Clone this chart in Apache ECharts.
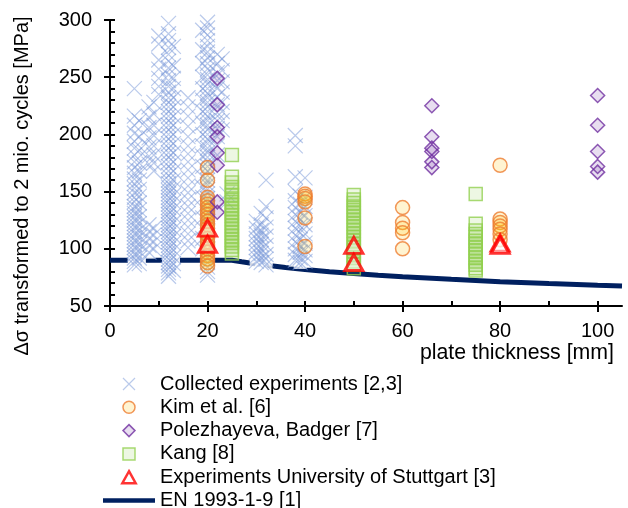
<!DOCTYPE html>
<html><head><meta charset="utf-8">
<script src="https://cdn.jsdelivr.net/npm/echarts@6/dist/echarts.min.js"></script>
<style>html,body{margin:0;padding:0;background:#fff}#c{width:628px;height:508px}</style>
</head><body><div id="c"></div>
<script>
const FONT = '"Liberation Sans", Arial, sans-serif';

// tick labels
const xTickLabels = [0, 20, 40, 60, 80, 100];
const xMinorTicks = [0, 10, 20, 30, 40, 50, 60, 70, 80, 90, 100];
const yTickLabels = [50, 100, 150, 200, 250, 300];
const yMinorTicks = [50, 60, 70, 80, 90, 100, 110, 120, 130, 140, 150, 160, 170, 180, 190, 200, 210, 220, 230, 240, 250, 260, 270, 280, 290, 300];

// Collected experiments [2,3]: plate thickness [mm] and stress ranges [MPa]
const collectedThickness = [5, 6, 8, 9, 10, 12, 13, 16, 19, 20, 22, 23, 24, 30, 31, 32, 38, 39, 40];
const collectedValues = [
  [240, 216, 208, 201, 194, 188, 182, 176, 171, 166, 161, 157, 153, 149, 145, 141, 137, 134, 131, 128, 125, 122, 119, 116, 113, 110, 107, 104, 101, 98, 95, 92, 89, 86],
  [212, 198, 186, 175, 168, 160, 152, 146, 140, 134, 128, 122, 116, 110, 104, 98, 92, 87],
  [224, 215, 206, 197, 189, 181, 174, 121, 115, 109, 103, 97],
  [228, 218, 208, 199, 190, 182, 175, 168, 118, 112, 106, 100],
  [286, 279, 265, 257, 249, 242, 235],
  [297, 288, 282, 276, 270, 264, 258, 252, 247, 242, 237, 232, 228, 224, 220, 216, 212, 208, 204, 200, 196, 192, 188, 184, 180, 176, 172, 168, 164, 160, 157, 154, 151, 148, 145, 142, 139, 136, 133, 130, 127, 124, 121, 118, 115, 112, 109, 106, 103, 100, 97, 94, 91, 88, 85, 82, 79, 76],
  [277, 260, 249, 240, 232, 224, 216, 208, 200, 192, 184, 176, 168, 160, 153, 147, 141, 135, 129, 123, 117, 111, 105, 99, 93, 87, 81],
  [232, 224, 216, 207, 198, 190, 183, 176, 169, 162, 155, 149, 143, 137, 131, 125, 119, 113, 107, 101],
  [291, 274, 262, 250, 240, 230, 220, 210, 200, 190, 181, 172, 163, 154, 145, 136, 127, 118, 109, 100],
  [298, 293, 287, 282, 277, 272, 267, 262, 257, 252, 248, 244, 240, 236, 232, 228, 224, 220, 216, 212, 208, 204, 200, 196, 192, 188, 184, 180, 176, 172, 168, 164, 160, 156, 152, 148, 144, 140, 136, 132, 128, 124, 120, 116, 112, 108, 104, 100, 96, 92, 88, 84, 80, 77],
  [270, 262, 254, 247, 240, 233, 226, 219, 212, 205, 198, 190, 182],
  [266, 256, 246, 237, 228, 220, 212, 204],
  [148, 141],
  [124, 118, 113, 109, 105, 101, 97, 93, 89],
  [131, 121, 116, 112, 108, 104, 100, 96, 92, 88],
  [160, 137, 127, 119, 111, 103, 95, 91, 86],
  [199, 190, 163, 150, 142, 136, 130, 124, 118, 112, 106, 100, 95, 90],
  [146, 139, 132, 126, 120, 114, 108, 102, 97, 92, 88],
  [162, 145, 137, 129, 121, 113, 105, 99, 94, 89]
];

// Kim et al. [6]
const kimThickness = [20, 40, 60, 80];
const kimValues = [
  [171, 160, 145, 142, 139, 136, 133, 130, 127, 124, 121, 118, 115, 112, 109, 106, 103, 100, 97, 94, 91, 88, 85],
  [148, 146, 144, 141, 127, 102],
  [136, 123, 118, 114, 100],
  [173, 126, 123, 120, 117, 113, 108]
];

// Polezhayeva, Badger [7]
const polThickness = [22, 66, 100];
const polValues = [
  [249, 226, 206, 198, 184, 173, 141, 132],
  [225, 198, 188, 185, 176, 171],
  [234, 208, 185, 172, 167]
];

// Kang [8]
const kangThickness = [25, 50, 75];
const kangValues = [
  [182, 163, 158, 154, 150, 147, 144, 141, 138, 135, 132, 129, 126, 123, 120, 117, 114, 111, 108, 105, 102, 99, 96],
  [147, 143, 140, 137, 134, 131, 128, 125, 122, 119, 116, 113, 110, 107, 104, 101, 98, 95, 92, 89, 86, 83],
  [148, 122, 116, 113, 110, 107, 104, 101, 98, 95, 92, 89, 86, 83, 81]
];

// Experiments University of Stuttgart [3]
const stuttThickness = [20, 50, 80];
const stuttValues = [
  [118, 104],
  [103, 88],
  [105, 103]
];

// EN 1993-1-9 [1]
const enThickness = [0, 25, 27, 30, 33, 36, 40, 45, 50, 55, 60, 70, 80, 90, 100, 105];
const enValues = [90, 90, 88.6, 86.8, 85.1, 83.7, 81.9, 80.0, 78.4, 76.9, 75.5, 73.3, 71.3, 69.7, 68.2, 67.5];

const names = ['Collected experiments [2,3]', 'Kim et al. [6]', 'Polezhayeva, Badger [7]', 'Kang [8]', 'Experiments University of Stuttgart [3]', 'EN 1993-1-9 [1]'];

function pairs(ts, vs) {
  const out = [];
  ts.forEach((t, i) => vs[i].forEach(v => out.push([t, v])));
  return out;
}
const collectedPts = pairs(collectedThickness, collectedValues);
const enPts = enThickness.map((t, i) => [t, enValues[i]]);

const crossPath = 'path://M0,0L10,10M10,0L0,10';
const tickStyle = { color: '#000', width: 2 };

const chart = echarts.init(document.getElementById('c'), null, { renderer: 'canvas' });
chart.setOption({
  animation: false,
  backgroundColor: '#fff',
  grid: { left: 110, right: 6, top: 20, bottom: 202, containLabel: false },
  xAxis: [
    {
      type: 'value', min: 0, max: 105, position: 'bottom',
      axisLine: { lineStyle: { color: '#000', width: 2 } },
      axisTick: { customValues: xTickLabels, inside: false, length: 6, lineStyle: tickStyle },
      axisLabel: { customValues: xTickLabels, margin: 15, fontSize: 20, color: '#000', fontFamily: FONT },
      splitLine: { show: false },
      name: 'plate thickness [mm]', nameLocation: 'end', nameGap: -8,
      nameTextStyle: { fontSize: 21.3, color: '#000', fontFamily: FONT, align: 'right', verticalAlign: 'top', padding: [37, 0, 0, 0] }
    },
    {
      type: 'value', min: 0, max: 105, position: 'bottom',
      axisLine: { show: false },
      axisTick: { customValues: xMinorTicks, inside: true, length: 5, lineStyle: tickStyle },
      axisLabel: { show: false }, splitLine: { show: false }
    }
  ],
  yAxis: [
    {
      type: 'value', min: 50, max: 300, position: 'left',
      axisLine: { lineStyle: { color: '#000', width: 2 } },
      axisTick: { customValues: yTickLabels, inside: false, length: 6, lineStyle: tickStyle },
      axisLabel: { customValues: yTickLabels, margin: 18, fontSize: 20, color: '#000', fontFamily: FONT },
      splitLine: { show: false },
      name: 'Δσ transformed to 2 mio. cycles [MPa]', nameLocation: 'middle', nameGap: 78, nameRotate: 90,
      nameTextStyle: { fontSize: 20, color: '#000', fontFamily: FONT, padding: [0, 46, 0, 0] }
    },
    {
      type: 'value', min: 50, max: 300, position: 'left',
      axisLine: { show: false },
      axisTick: { customValues: yMinorTicks, inside: true, length: 5, lineStyle: tickStyle },
      axisLabel: { show: false }, splitLine: { show: false }
    }
  ],
  legend: {
    orient: 'vertical', left: 103, top: 374, width: 500, height: 180, padding: 0, itemGap: 3.3,
    itemWidth: 52, itemHeight: 12, symbolKeepAspect: true, selectedMode: false,
    textStyle: { fontSize: 20, color: '#000', fontFamily: FONT },
    data: [
      { name: names[0], itemStyle: { borderWidth: 1.2 } },
      { name: names[1], itemStyle: { borderWidth: 1.5 } },
      { name: names[2], icon: 'path://M5,0L10,5L5,10L0,5Z', itemStyle: { borderWidth: 1.5 } },
      { name: names[3], icon: 'path://M0,0L10,0L10,10L0,10Z', itemStyle: { borderWidth: 1.5 } },
      { name: names[4], icon: 'path://M5,0L10,9L0,9Z', itemStyle: { borderWidth: 2.5 } },
      { name: names[5], icon: 'path://M0,0L104,0L104,9L0,9Z', itemStyle: { color: '#002060', borderWidth: 0 } }
    ]
  },
  series: [
    {
      name: names[5], type: 'line', z: 1, data: enPts, showSymbol: false, symbol: 'none',
      lineStyle: { color: '#002060', width: 5 }, itemStyle: { color: '#002060' }, silent: true
    },
    {
      name: 'bg', type: 'scatter', z: 2, data: collectedPts, symbol: 'rect', symbolSize: 13,
      itemStyle: { color: '#ffffff' }, silent: true
    },
    {
      name: names[0], type: 'scatter', z: 3, data: collectedPts, symbol: crossPath, symbolSize: 15,
      itemStyle: { color: 'rgba(115,148,214,0.62)', borderColor: 'rgba(115,148,214,0.62)', borderWidth: 1.2 }
    },
    {
      name: names[1], type: 'scatter', z: 4, data: pairs(kimThickness, kimValues), symbol: 'circle', symbolSize: 14,
      itemStyle: { color: 'rgba(255,192,0,0.22)', borderColor: '#ed7d31', borderWidth: 1.5 }
    },
    {
      name: names[2], type: 'scatter', z: 4, data: pairs(polThickness, polValues), symbol: 'diamond', symbolSize: 14,
      itemStyle: { color: 'rgba(112,48,160,0.2)', borderColor: '#7030a0', borderWidth: 1.5 }
    },
    {
      name: names[3], type: 'scatter', z: 4, data: pairs(kangThickness, kangValues), symbol: 'rect', symbolSize: 13,
      itemStyle: { color: 'rgba(146,208,80,0.2)', borderColor: '#92d050', borderWidth: 1.5 }
    },
    {
      name: names[4], type: 'scatter', z: 5, data: pairs(stuttThickness, stuttValues), symbol: 'triangle', symbolSize: [18, 16],
      itemStyle: { color: 'rgba(255,255,255,0.6)', borderColor: '#ff0000', borderWidth: 3 }
    }
  ]
});
</script></body></html>
